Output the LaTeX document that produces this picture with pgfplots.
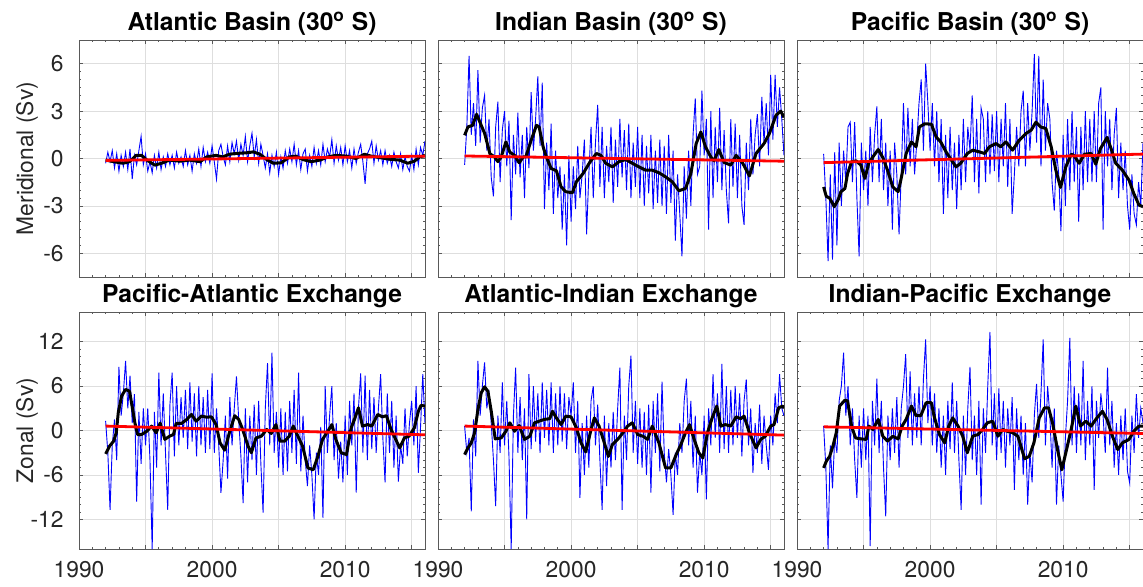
\documentclass[border=0pt]{standalone}
\usepackage{fontspec}
\setmainfont{TeX Gyre Heros}
\usepackage{pgfplots}
\usepackage{pgfplotstable}
\pgfplotsset{compat=1.18}
\definecolor{mblue}{RGB}{0,0,255}
\definecolor{mred}{RGB}{255,0,0}
\definecolor{mgray}{RGB}{38,38,38}

% blue series: one value every 2 months from 1992.0 to 2016.0
\pgfplotstableread[row sep=\\]{y\\
-0.3\\0.4\\-0.2\\0.5\\-0.6\\0.3\\
-0.8\\0.2\\-0.5\\0.4\\-0.7\\0.6\\
-1.3\\0.2\\-0.4\\0.5\\1.4\\-0.4\\
0.3\\-0.8\\-0.2\\-0.9\\0.2\\-0.6\\
0.4\\-0.7\\0.1\\-0.5\\0.3\\-0.4\\
0.2\\-0.6\\0.4\\-0.3\\0.1\\-0.5\\
0.5\\-0.4\\0.2\\-0.8\\0.3\\-0.3\\
0.6\\-0.5\\0.7\\-0.2\\0.4\\-0.3\\
0.8\\-0.2\\-1.3\\0.5\\0.9\\0.1\\
-0.4\\0.8\\-0.2\\1.0\\0.3\\1.1\\
-0.1\\0.9\\0.2\\1.4\\-0.2\\0.8\\
1.6\\0.1\\1.2\\-0.3\\0.9\\0.2\\
-0.6\\0.3\\-0.9\\0.2\\-0.5\\0.4\\
-1.0\\0.1\\-0.6\\0.5\\-0.3\\0.6\\
-0.2\\0.9\\-0.4\\0.5\\-0.7\\0.3\\
0.6\\-0.8\\0.2\\-0.5\\0.7\\-0.3\\
0.5\\-0.4\\0.9\\-0.2\\0.6\\0.1\\
1.2\\-0.3\\0.8\\-0.1\\0.7\\-0.4\\
0.8\\-0.2\\0.5\\-0.6\\0.6\\-0.3\\
0.4\\0.9\\-0.2\\-1.6\\0.3\\0.6\\
1.1\\-0.3\\0.8\\-0.1\\0.5\\-0.4\\
0.5\\-0.3\\0.2\\-0.5\\0.4\\-0.2\\
-0.6\\0.3\\-0.7\\0.1\\-0.5\\-0.8\\
0.2\\-0.7\\0.6\\-0.4\\0.7\\0.2\\
1.1\\}\blueA

\pgfplotstableread[row sep=\\]{y\\
-0.4\\2.0\\6.5\\1.5\\3.5\\0.8\\
5.6\\1.0\\3.2\\4.0\\0.5\\2.5\\
-1.2\\-2.4\\2.0\\3.6\\-1.5\\1.8\\
3.0\\-0.5\\2.4\\-3.9\\1.5\\-1.0\\
2.9\\-1.2\\1.5\\-2.5\\2.0\\-0.6\\
4.2\\0.5\\2.5\\5.2\\0.8\\4.8\\
-3.2\\1.0\\-2.0\\2.2\\-3.5\\0.5\\
-2.5\\-0.5\\-4.5\\-1.0\\-5.5\\0.2\\
-4.0\\-0.5\\-3.2\\0.8\\-2.5\\-1.0\\
1.2\\-4.8\\-1.0\\2.0\\-2.5\\1.0\\
3.4\\-1.8\\2.0\\-2.5\\0.8\\-1.5\\
2.0\\-2.8\\1.2\\-1.8\\2.5\\-1.2\\
1.8\\-2.0\\2.2\\-2.5\\1.0\\-1.8\\
2.0\\-2.5\\1.5\\-3.0\\0.8\\-2.2\\
1.5\\-3.2\\0.5\\-2.8\\1.2\\-3.0\\
0.8\\-3.5\\1.5\\-2.8\\0.5\\-5.2\\
-1.0\\-3.5\\-6.2\\-0.5\\-3.8\\0.5\\
-3.0\\1.5\\3.8\\-1.0\\-0.5\\4.3\\
0.2\\2.5\\-4.5\\3.0\\-2.5\\2.0\\
-1.5\\3.2\\-2.0\\1.8\\-2.0\\-4.1\\
2.5\\-1.8\\2.2\\-2.5\\1.5\\-3.0\\
-4.2\\1.0\\-2.0\\2.5\\-1.0\\1.5\\
2.8\\-0.5\\3.9\\1.0\\3.5\\0.2\\
5.3\\1.2\\5.3\\2.0\\4.5\\2.5\\
0.2\\}\blueB

\pgfplotstableread[row sep=\\]{y\\
0.3\\-2.5\\-6.5\\-1.0\\-6.4\\0.4\\
-5.5\\1.0\\-3.0\\0.5\\-1.5\\2.0\\
2.3\\-1.5\\2.3\\-2.5\\-6.2\\1.0\\
-2.0\\0.5\\-3.0\\2.0\\-1.5\\1.5\\
3.3\\-1.5\\2.5\\-2.0\\1.0\\-3.0\\
0.5\\-4.5\\1.0\\-1.0\\-4.8\\-1.0\\
3.5\\-1.0\\3.2\\-0.5\\2.5\\-1.0\\
1.0\\3.5\\5.0\\0.5\\6.0\\3.5\\
0.5\\3.5\\-0.5\\3.0\\-1.5\\2.5\\
-3.5\\1.5\\-2.5\\2.0\\-2.0\\1.0\\
-3.2\\1.5\\-2.0\\2.5\\-1.5\\2.0\\
0.5\\4.0\\-1.5\\2.5\\-2.2\\3.2\\
2.5\\-1.5\\3.0\\-1.0\\2.8\\-0.8\\
3.0\\-1.5\\2.5\\-0.5\\3.5\\-1.8\\
2.5\\-3.5\\-1.0\\2.0\\-0.5\\3.0\\
4.3\\-0.5\\3.5\\0.5\\3.0\\6.6\\
1.0\\6.5\\-0.5\\5.0\\0.5\\3.5\\
2.5\\-1.5\\-3.3\\0.5\\-1.0\\-4.6\\
1.5\\-3.0\\2.5\\-2.0\\3.0\\-1.5\\
2.0\\-4.0\\2.0\\-2.0\\3.0\\-1.5\\
2.5\\-1.5\\3.0\\-1.5\\3.5\\4.5\\
-4.5\\3.0\\-0.5\\2.5\\-2.0\\1.5\\
3.2\\-2.5\\1.0\\-2.0\\0.5\\-3.0\\
-4.5\\-1.0\\-3.5\\-4.2\\-1.5\\-3.0\\
1.0\\}\blueC

\pgfplotstableread[row sep=\\]{y\\
1.3\\-3.0\\-10.7\\-2.0\\1.5\\-4.0\\
8.6\\2.0\\5.0\\9.4\\3.0\\7.4\\
1.0\\4.9\\-9.6\\2.5\\-4.5\\3.0\\
-2.0\\3.0\\-4.0\\-16.0\\2.5\\-5.0\\
7.8\\-2.0\\5.0\\-3.0\\-10.7\\3.5\\
7.8\\-3.5\\6.0\\-2.0\\4.5\\-1.0\\
5.5\\-2.5\\6.5\\-1.5\\5.0\\-3.5\\
6.0\\-2.0\\4.5\\-3.0\\5.5\\-2.5\\
7.7\\-3.0\\3.0\\-2.0\\-8.4\\-4.0\\
2.0\\-6.5\\4.5\\-2.0\\3.0\\7.3\\
1.5\\-3.5\\-9.8\\3.0\\-7.0\\2.0\\
-4.0\\3.5\\-6.0\\4.0\\-4.5\\-11.1\\
3.0\\9.1\\-2.0\\10.5\\-3.0\\2.5\\
-5.0\\3.0\\-6.0\\2.5\\-5.5\\4.0\\
-3.0\\5.5\\-4.5\\7.8\\-5.5\\2.0\\
-4.0\\-7.5\\-2.0\\-6.0\\-12.0\\-3.0\\
-6.0\\0.5\\-11.8\\6.0\\-3.0\\2.0\\
6.0\\-4.0\\1.0\\-6.5\\-1.5\\-7.0\\
2.0\\-6.0\\4.0\\-2.0\\5.0\\-8.4\\
3.0\\7.7\\-3.0\\7.4\\-4.0\\5.5\\
-2.5\\4.5\\-3.0\\3.0\\7.6\\-1.0\\
-7.0\\5.0\\-3.0\\4.0\\-5.0\\2.0\\
-6.9\\-2.0\\-4.5\\3.0\\-3.5\\1.0\\
4.0\\-2.0\\6.0\\-5.7\\0.5\\7.6\\
1.0\\}\blueD

\pgfplotstableread[row sep=\\]{y\\
0.6\\-3.0\\-1.0\\-10.9\\1.5\\-3.5\\
9.4\\2.0\\6.0\\9.2\\3.0\\5.0\\
1.0\\-4.0\\-10.2\\2.0\\-3.0\\6.5\\
-2.0\\4.0\\-3.5\\-16.0\\2.0\\8.5\\
-3.0\\4.5\\-4.0\\3.0\\-12.0\\7.6\\
-2.5\\6.0\\-1.5\\5.0\\-3.0\\6.5\\
-1.0\\5.5\\-2.0\\6.5\\-3.0\\5.0\\
-2.0\\6.0\\-1.5\\5.0\\-2.5\\4.5\\
2.0\\6.5\\-3.0\\4.0\\-9.1\\1.0\\
-6.0\\2.0\\-5.0\\4.0\\6.0\\-2.0\\
3.5\\-4.0\\-10.7\\2.0\\-7.5\\1.0\\
-5.0\\2.5\\-4.0\\3.0\\8.5\\-10.7\\
2.0\\-4.0\\6.0\\10.1\\-3.0\\4.0\\
-4.5\\3.0\\-5.0\\2.5\\-6.0\\3.5\\
-8.4\\4.0\\-3.0\\5.0\\-5.5\\6.6\\
-3.0\\-7.0\\-2.5\\-6.0\\-11.4\\-3.0\\
-6.0\\1.0\\-3.0\\4.0\\7.0\\-2.0\\
4.0\\-5.0\\2.0\\-8.4\\-3.0\\-6.0\\
2.0\\-9.3\\3.0\\-2.0\\7.6\\-1.0\\
5.0\\-3.0\\9.0\\-2.5\\6.0\\-3.0\\
5.5\\-2.0\\6.0\\-1.0\\5.0\\-3.5\\
4.0\\6.9\\-2.0\\3.0\\-5.7\\1.0\\
-3.0\\3.5\\-4.5\\2.0\\-2.0\\-5.3\\
2.0\\-2.0\\5.0\\1.0\\7.6\\3.0\\
2.0\\}\blueE

\pgfplotstableread[row sep=\\]{y\\
0.6\\-5.0\\-16.0\\-2.0\\-7.8\\-1.0\\
-3.0\\4.0\\6.0\\10.5\\2.0\\6.0\\
-2.0\\3.0\\-4.0\\-9.1\\2.0\\-5.0\\
3.0\\-4.0\\2.0\\-15.6\\4.0\\-2.0\\
7.0\\-3.0\\4.0\\-5.0\\-11.6\\2.0\\
-4.0\\3.0\\-3.0\\4.5\\-5.0\\3.0\\
6.0\\10.3\\-1.0\\8.0\\-2.0\\5.0\\
-1.0\\6.0\\-2.0\\7.0\\12.3\\1.0\\
6.0\\-2.0\\5.0\\-3.0\\3.0\\-5.0\\
2.0\\-6.0\\4.0\\-2.5\\6.5\\-3.0\\
4.0\\-4.0\\-10.7\\2.0\\-6.0\\3.0\\
8.6\\-4.0\\2.0\\-6.0\\4.0\\-10.0\\
3.0\\-3.0\\6.0\\13.3\\-2.0\\5.0\\
-4.0\\5.7\\-3.0\\4.0\\-5.0\\3.0\\
-2.0\\4.5\\-8.0\\3.0\\-4.0\\2.0\\
-6.0\\1.0\\-10.0\\-3.0\\-7.0\\2.0\\
6.3\\-1.0\\5.0\\12.3\\-2.0\\6.0\\
2.0\\-5.0\\3.0\\-10.0\\-2.0\\-6.0\\
-9.6\\-1.0\\4.0\\12.5\\-2.0\\6.0\\
-3.0\\5.0\\-2.0\\9.4\\-4.0\\4.0\\
-2.0\\6.0\\-8.0\\4.0\\-1.0\\5.0\\
2.0\\-3.0\\8.5\\-2.0\\4.0\\-5.0\\
1.0\\-6.0\\2.0\\-4.0\\3.0\\-5.5\\
-7.1\\2.0\\-3.0\\4.9\\-1.0\\3.0\\
1.0\\}\blueF

\pgfplotsset{
  panel/.style={
    scale only axis, width=173pt, height=118.5pt, anchor=south west,
    xmin=1990, xmax=2016,
    xtick={1990,1995,2000,2005,2010,2015},
    minor x tick num=4,
    tick align=inside, tick pos=both,
    major tick length=2pt, minor tick length=1pt,
    grid=major, major grid style={black!13, line width=0.4pt},
    axis line style={black!65, line width=0.4pt},
    every tick/.style={black!65, line width=0.35pt},
    title style={at={(0.5,1)}, anchor=base, yshift=-1pt, font=\fontsize{12.3}{14}\selectfont\bfseries},
    tick label style={text=mgray},
    xticklabel style={yshift=-2.5pt},
    yticklabel style={xshift=-4.2pt},
    ylabel style={at={(axis description cs:-0.15,0.5)}, anchor=center, rotate=0, text=mgray},
    clip=true,
  },
  toprow/.style={ymin=-7.5, ymax=7.5, ytick={-6,-3,0,3,6}, minor y tick num=5, xticklabels={}},
  botrow/.style={ymin=-16, ymax=16, ytick={-12,-6,0,6,12}, minor y tick num=5, xticklabels={1990,,2000,,2010,}},
  bl/.style={mblue, line width=0.45pt},
  bk/.style={black, line width=1.5pt, line join=round},
  rd/.style={mred, line width=1.4pt},
}

\begin{document}
\begin{tikzpicture}[font=\fontsize{11.4}{13.7}\selectfont]
\path[use as bounding box] (0,0) rectangle (571.5pt,293pt);

% ---------- top row ----------
\begin{axis}[panel, toprow, at={(39.5pt,154.5pt)}, title={Atlantic Basin (30\textsuperscript{o} S)},
  yticklabels={-6,-3,0,3,6}, ylabel={Meridional (Sv)}]
\addplot[bl] table[x expr=1992+\coordindex/6, y=y]{\blueA};
\addplot[bk] coordinates {(1992.0,-0.1)(1992.6,-0.2)(1993.3,-0.3)(1993.8,-0.2)(1994.3,0.2)(1994.7,0.2)(1995.1,-0.1)(1995.7,-0.42)(1996.2,-0.3)(1996.8,-0.1)(1997.6,-0.17)(1998.3,-0.1)(1999.1,-0.2)(1999.6,0.1)(2000.3,0.2)(2000.8,0.1)(2001.3,0.27)(2001.8,0.32)(2002.6,0.36)(2003.1,0.42)(2003.6,0.27)(2004.1,-0.06)(2004.6,-0.3)(2005.2,-0.27)(2005.8,0.1)(2006.3,0.15)(2006.8,-0.06)(2007.45,-0.2)(2008.1,-0.1)(2008.7,0.1)(2009.3,0.2)(2010.1,0.15)(2010.8,0)(2011.45,0.27)(2011.95,0.15)(2012.6,0.06)(2013.45,-0.06)(2014.1,-0.1)(2014.7,-0.3)(2015.2,-0.17)(2015.6,0.1)(2016.0,0.2)};
\addplot[rd] coordinates {(1992,-0.12)(2016,0.15)};
\end{axis}

\begin{axis}[panel, toprow, at={(219pt,154.5pt)}, title={Indian Basin (30\textsuperscript{o} S)}, yticklabels={}]
\addplot[bl] table[x expr=1992+\coordindex/6, y=y]{\blueB};
\addplot[bk] coordinates {(1992.0,1.47)(1992.25,2.0)(1992.6,2.1)(1992.9,2.8)(1993.1,2.4)(1993.5,1.6)(1993.9,0.3)(1994.25,0.1)(1994.5,-0.2)(1994.75,0.1)(1995.1,1.05)(1995.4,0.4)(1995.75,0.2)(1996.1,-0.27)(1996.4,0.1)(1996.6,0.1)(1997.0,1.16)(1997.4,2.1)(1997.6,2.0)(1997.9,0.74)(1998.1,0.2)(1998.5,-0.63)(1998.9,-0.78)(1999.25,-1.8)(1999.6,-2.1)(2000.1,-2.17)(2000.4,-1.47)(2000.9,-0.95)(2001.4,-0.25)(2001.9,0.32)(2002.25,0.2)(2002.6,-0.3)(2003.1,-0.53)(2003.6,-0.2)(2004.1,-0.06)(2004.6,-0.3)(2005.1,-0.53)(2005.6,-0.74)(2006.1,-0.74)(2006.6,-0.9)(2007.1,-1.16)(2007.6,-1.47)(2008.1,-2.04)(2008.6,-1.9)(2009.0,-0.95)(2009.4,0.95)(2009.75,1.68)(2010.1,0.74)(2010.5,0.1)(2010.75,-0.15)(2011.1,0.57)(2011.5,-0.25)(2012.0,-0.42)(2012.4,0.2)(2012.9,-0.3)(2013.4,-1.1)(2013.9,0.32)(2014.5,0.95)(2014.9,1.58)(2015.4,2.74)(2015.75,3.0)(2016.0,2.6)};
\addplot[rd] coordinates {(1992,0.16)(2016,-0.17)};
\end{axis}

\begin{axis}[panel, toprow, at={(398.5pt,154.5pt)}, title={Pacific Basin (30\textsuperscript{o} S)}, yticklabels={}]
\addplot[bl] table[x expr=1992+\coordindex/6, y=y]{\blueC};
\addplot[bk] coordinates {(1992.0,-1.8)(1992.2,-2.4)(1992.45,-2.5)(1992.8,-3.05)(1993.1,-2.6)(1993.3,-2.1)(1993.6,-1.9)(1993.8,-0.95)(1994.1,-0.2)(1994.45,-0.15)(1994.8,-0.42)(1995.1,-1.26)(1995.4,-0.27)(1995.7,0.1)(1996.1,0.57)(1996.45,0.06)(1996.8,-0.74)(1997.2,-1.8)(1997.6,-2.1)(1997.8,-1.37)(1998.2,0.32)(1998.6,1.05)(1998.95,0.74)(1999.2,2.0)(1999.6,2.2)(2000.1,2.17)(2000.45,1.37)(2000.8,1.05)(2001.2,0.42)(2001.6,-0.1)(2001.95,-0.53)(2002.3,-0.3)(2002.8,0.32)(2003.2,0.53)(2003.7,0.42)(2004.1,0.32)(2004.45,0.74)(2004.95,0.95)(2005.3,0.74)(2005.7,1.05)(2006.2,0.53)(2006.7,1.16)(2007.2,1.58)(2007.6,1.8)(2007.95,2.3)(2008.3,2.0)(2008.7,1.9)(2009.1,0.74)(2009.45,-0.74)(2009.8,-1.83)(2010.2,-0.53)(2010.6,0.27)(2010.8,0.2)(2011.2,-0.3)(2011.6,0.27)(2012.1,0.32)(2012.45,-0.36)(2012.8,0.63)(2013.3,1.33)(2013.6,0.63)(2013.95,-0.3)(2014.45,-0.74)(2014.95,-1.37)(2015.3,-2.2)(2015.7,-2.95)(2016.0,-3.05)};
\addplot[rd] coordinates {(1992,-0.26)(2016,0.28)};
\end{axis}

% ---------- bottom row ----------
\begin{axis}[panel, botrow, at={(39.5pt,18.5pt)}, title={Pacific-Atlantic Exchange},
  yticklabels={-12,-6,0,6,12}, ylabel={Zonal (Sv)}]
\addplot[bl] table[x expr=1992+\coordindex/6, y=y]{\blueD};
\addplot[bk] coordinates {(1992.0,-3.16)(1992.3,-2.1)(1992.6,-1.44)(1992.8,-0.3)(1992.95,2.4)(1993.2,4.65)(1993.5,5.55)(1993.8,5.3)(1993.95,3.7)(1994.2,1.04)(1994.4,-0.54)(1994.7,-0.54)(1995.1,-0.1)(1995.45,0.6)(1995.8,-0.3)(1996.1,1.0)(1996.45,-1.2)(1996.8,-0.77)(1997.1,-0.54)(1997.3,0.95)(1997.7,0.95)(1998.1,1.5)(1998.45,2.17)(1998.8,1.26)(1999.2,1.94)(1999.6,1.8)(1999.95,1.85)(2000.3,0.8)(2000.6,-1.67)(2000.95,-2.66)(2001.3,-0.3)(2001.7,2.0)(2002.0,1.5)(2002.3,0.14)(2002.7,-2.1)(2002.95,-3.0)(2003.3,-1.0)(2003.7,-0.77)(2004.1,0.14)(2004.45,-0.4)(2004.8,0.8)(2005.1,-1.44)(2005.45,-1.44)(2005.8,-0.77)(2006.1,0.6)(2006.45,-0.77)(2006.8,-2.1)(2007.2,-5.05)(2007.6,-5.3)(2007.95,-3.5)(2008.3,-1.2)(2008.7,-0.1)(2009.0,0.8)(2009.3,-1.2)(2009.7,-3.0)(2010.1,-3.25)(2010.45,0.36)(2010.7,1.5)(2011.0,3.07)(2011.3,0.6)(2011.7,0.8)(2012.0,0.6)(2012.45,2.17)(2012.8,1.85)(2013.1,2.0)(2013.45,0.14)(2013.8,-1.2)(2014.1,-2.35)(2014.45,-1.0)(2014.8,-0.77)(2015.2,0.36)(2015.5,2.6)(2015.7,3.4)(2016.0,3.3)};
\addplot[rd] coordinates {(1992,0.6)(2016,-0.58)};
\end{axis}

\begin{axis}[panel, botrow, at={(219pt,18.5pt)}, title={Atlantic-Indian Exchange}, yticklabels={}]
\addplot[bl] table[x expr=1992+\coordindex/6, y=y]{\blueE};
\addplot[bk] coordinates {(1992.0,-3.25)(1992.25,-2.35)(1992.5,-1.67)(1992.75,-0.3)(1993.0,2.84)(1993.25,5.1)(1993.5,5.9)(1993.75,5.3)(1994.0,2.6)(1994.3,-1.13)(1994.75,-1.0)(1995.1,-0.1)(1995.4,1.04)(1995.75,-0.1)(1996.1,0.68)(1996.5,-1.2)(1996.9,-0.77)(1997.25,1.04)(1997.6,1.26)(1998.0,1.5)(1998.4,1.6)(1998.6,2.6)(1998.9,1.7)(1999.25,0.8)(1999.6,1.94)(2000.0,1.85)(2000.4,0.36)(2000.75,-1.67)(2001.1,-2.9)(2001.5,0.14)(2001.75,1.7)(2002.1,0.6)(2002.5,-1.67)(2002.8,-3.5)(2003.1,-1.9)(2003.5,-1.2)(2003.9,-0.3)(2004.25,0.6)(2004.6,1.04)(2005.0,-0.54)(2005.4,-0.77)(2005.75,-1.2)(2006.1,0.6)(2006.6,-1.67)(2007.1,-5.05)(2007.5,-5.05)(2007.9,-3.25)(2008.25,-1.9)(2008.6,-0.3)(2008.9,0.8)(2009.25,-1.2)(2009.6,-3.0)(2009.9,-3.7)(2010.25,-0.3)(2010.6,1.7)(2010.95,3.3)(2011.25,0.6)(2011.6,0.8)(2012.0,0.6)(2012.4,1.85)(2012.75,1.6)(2013.0,1.94)(2013.4,-0.3)(2013.9,-2.35)(2014.25,-1.2)(2014.6,-0.77)(2015.0,0.6)(2015.25,0.8)(2015.6,3.07)(2015.9,3.3)(2016.0,3.07)};
\addplot[rd] coordinates {(1992,0.6)(2016,-0.62)};
\end{axis}

\begin{axis}[panel, botrow, at={(398.5pt,18.5pt)}, title={Indian-Pacific Exchange}, yticklabels={}]
\addplot[bl] table[x expr=1992+\coordindex/6, y=y]{\blueF};
\addplot[bk] coordinates {(1992.0,-5.05)(1992.2,-4.15)(1992.45,-3.5)(1992.7,-2.1)(1992.95,-0.3)(1993.2,3.3)(1993.6,4.1)(1993.8,4.0)(1994.1,0.6)(1994.4,-1.0)(1994.8,-1.13)(1995.2,-1.2)(1995.4,0.6)(1995.7,0.14)(1996.1,1.5)(1996.45,-0.77)(1996.8,-1.44)(1997.2,-0.77)(1997.6,-1.13)(1997.9,0.6)(1998.2,1.5)(1998.6,3.3)(1998.95,2.0)(1999.3,2.0)(1999.7,3.75)(2000.1,3.75)(2000.3,1.94)(2000.7,-0.54)(2001.1,-1.67)(2001.4,0.6)(2001.7,1.7)(2002.1,0.6)(2002.45,-0.77)(2002.8,-3.0)(2003.2,-0.77)(2003.6,-0.54)(2003.95,0.14)(2004.3,1.04)(2004.7,1.26)(2005.1,-0.77)(2005.45,0.14)(2005.8,-0.1)(2006.2,-0.3)(2006.6,-0.77)(2007.1,-3.8)(2007.45,-3.5)(2007.8,-1.67)(2008.2,1.7)(2008.6,3.07)(2008.9,3.07)(2009.2,1.04)(2009.6,-2.8)(2009.9,-5.3)(2010.2,-3.0)(2010.6,0.14)(2010.95,3.3)(2011.3,0.6)(2011.7,1.26)(2012.1,0.6)(2012.45,1.5)(2012.95,2.6)(2013.3,1.5)(2013.7,-0.77)(2014.1,-2.57)(2014.45,-1.67)(2014.95,-1.2)(2015.3,-0.1)(2015.7,0.6)(2016.0,0.6)};
\addplot[rd] coordinates {(1992,0.5)(2016,-0.4)};
\end{axis}
\end{tikzpicture}
\end{document}
